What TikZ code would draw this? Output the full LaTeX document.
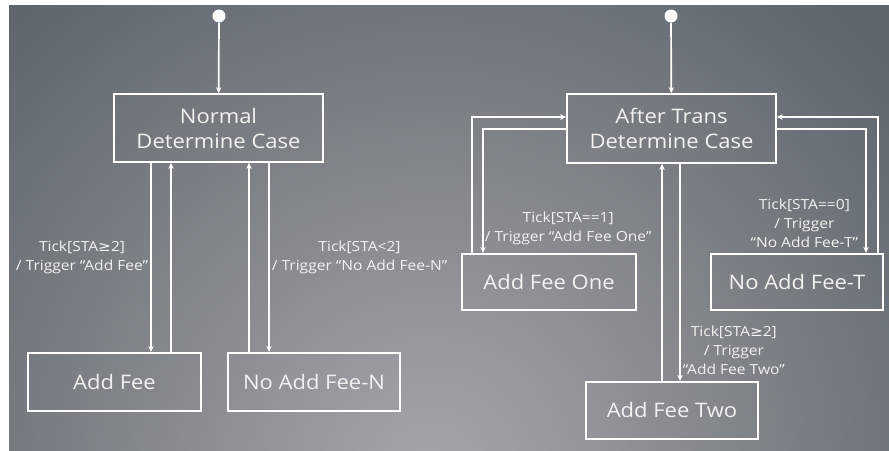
\documentclass[tikz,border=0pt]{standalone}
\usepackage{fontspec}
\setmainfont{Open Sans}
\newfontfamily\boxfont[FakeStretch=1.1]{Open Sans}
\newfontfamily\guardfont[FakeStretch=1.12]{Open Sans}
\newfontfamily\symfont[FakeStretch=1.1]{DejaVu Sans}
\usetikzlibrary{positioning, arrows.meta}
\definecolor{bgdark}{HTML}{5E656D}
\definecolor{bglight}{HTML}{A4A6A9}
\definecolor{ink}{HTML}{F2F2F2}
\newcommand{\gteq}{{\symfont ≥}}
\tikzset{
    state/.style = {draw=white, line width=1.7pt, text=ink, align=center, inner sep=0pt, font=\boxfont\fontsize{20}{25}\selectfont},
    tip/.style = {white, line width=1.7pt, ->, >={Stealth[length=6pt, width=5.5pt]}},
    guard/.style = {text=ink, align=center, font=\guardfont\fontsize{13.9}{19}\selectfont, inner sep=2pt},
    startdot/.style = {circle, fill=white, minimum size=13pt, inner sep=0pt}
}

\begin{document}
\begin{tikzpicture}[x=1pt, y=-1pt]
    % background
    \useasboundingbox (0,0) rectangle (889,450);
    \fill[white] (0,0) rectangle (889,450);
    \begin{scope}
        \clip (9,5) rectangle (889,450);
        \fill[bgdark] (9,5) rectangle (889,450);
        \shade[inner color=bglight, outer color=bgdark] (430,470) circle (620);
    \end{scope}
    % normal case
    \node[startdot]                          (startN)  at (219,16) {};
    \node[state, minimum width=209pt, minimum height=68pt] (normal) at (218.5,128) {Normal\\Determine Case};
    \node[state, minimum width=173pt, minimum height=58pt, below = 189pt of normal, xshift=-104pt] (addfee) {Add Fee};
    \node[state, minimum width=172pt, minimum height=58pt, below = 189pt of normal, xshift=95.5pt]  (nofeeN) {No Add Fee-N};
    % after trans case
    \node[startdot]                          (startT)  at (671,16) {};
    \node[state, minimum width=209pt, minimum height=69pt] (after) at (671.5,128.5) {After Trans\\Determine Case};
    \node[state, minimum width=174pt, minimum height=56pt, below = 89pt of after, xshift=-122.5pt] (feeone) {Add Fee One};
    \node[state, minimum width=172pt, minimum height=56pt, below = 89pt of after, xshift=125.5pt]  (feeT)   {No Add Fee-T};
    \node[state, minimum width=172pt, minimum height=57pt, below = 217pt of after, xshift=0.5pt]   (feetwo) {Add Fee Two};
    % arrows, normal
    \draw[tip] (startN) -- (normal);
    \draw[tip] (normal.south -| 151,0) -- node[guard, midway, left] {Tick[STA\gteq2]\\/ Trigger “Add Fee”} (addfee.north -| 151,0);
    \draw[tip] (addfee.north -| 171,0) -- (normal.south -| 171,0);
    \draw[tip] (nofeeN.north -| 249,0) -- (normal.south -| 249,0);
    \draw[tip] (normal.south -| 269,0) -- node[guard, midway, right] {Tick[STA<2]\\/ Trigger “No Add Fee-N”} (nofeeN.north -| 269,0);
    % arrows, after trans
    \draw[tip] (startT) -- (after);
    \draw[tip] (feeone.north -| 472,0) |- (after.west |- 0,117);
    \draw[tip] (after.west |- 0,129) -| node[guard, pos=0.9, right, inner sep=1pt] {Tick[STA==1]\\/ Trigger “Add Fee One”} (feeone.north -| 483,0);
    \draw[tip] (feeT.north -| 878,0) |- (after.east |- 0,117);
    \draw[tip] (after.east |- 0,129) -| node[guard, pos=0.88, left, xshift=-5pt] {Tick[STA==0]\\/ Trigger\\“No Add Fee-T”} (feeT.north -| 866,0);
    \draw[tip] (feetwo.north -| 662,0) -- (after.south -| 662,0);
    \draw[tip] (after.south -| 680,0) -- node[guard, pos=0.86, right] {Tick[STA\gteq2]\\/ Trigger\\“Add Fee Two”} (feetwo.north -| 680,0);
\end{tikzpicture}
\end{document}
